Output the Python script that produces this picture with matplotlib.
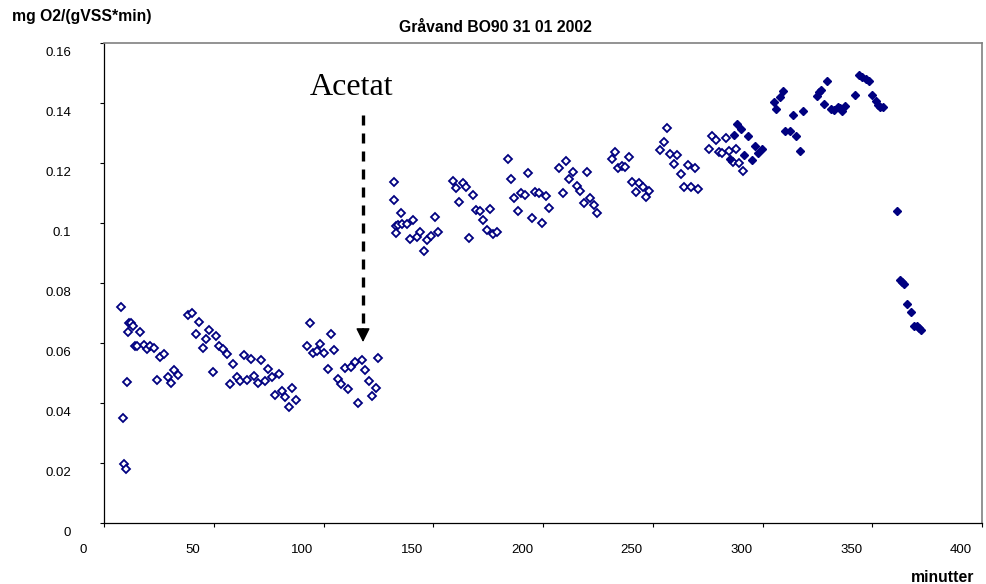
import numpy as np
import matplotlib
matplotlib.use("Agg")
import matplotlib.pyplot as plt
from matplotlib.transforms import ScaledTranslation

plt.rcParams['font.family'] = ['Liberation Sans', 'DejaVu Sans']

# open diamonds (before / around acetate dosing)
open_min = [7.9, 11.2, 12.3, 13.1, 10.8, 16.5, 14.1, 14.9, 18.1, 19.6, 21.0, 22.8, 25.5, 27.5,
            10.6, 8.5, 9.1, 10.0, 24.3, 29.0, 30.5, 32.0, 33.6, 38.4, 40.2, 43.4, 41.8, 48.0,
            46.3, 51.0, 45.0, 52.5, 54.4, 55.9, 49.5, 58.9, 57.4, 60.4, 62.1, 63.6, 66.8, 65.3,
            68.5, 70.0, 71.7, 73.2, 74.9, 76.4, 79.5, 77.9, 81.0, 82.5, 85.7, 84.1, 87.3, 93.8,
            103.4, 92.3, 98.5, 95.4, 96.9, 100.1, 104.9, 102.1, 109.7, 106.6, 108.1, 111.3, 112.7,
            114.3, 117.5, 119.0, 120.6, 123.8, 122.1, 115.9, 125.0, 132.3, 132.3, 135.1, 132.9,
            134.1, 135.9, 137.9, 140.9, 133.0, 139.4, 142.7, 144.1, 145.8, 147.3, 148.8, 150.6,
            152.0, 158.8, 160.4, 163.7, 165.0, 161.9, 168.3, 166.4, 169.7, 171.3, 176.0, 172.8,
            174.3, 177.3, 179.0, 184.1, 185.6, 186.9, 190.2, 191.8, 188.7, 193.3, 196.5, 198.0,
            201.2, 195.0, 199.5, 202.7, 207.4, 210.6, 213.8, 212.0, 209.0, 215.5, 217.0, 220.0,
            218.5, 221.5, 223.2, 224.7, 231.3, 232.8, 234.3, 236.1, 237.5, 239.0, 240.7, 242.2,
            243.9, 245.4, 246.9, 248.4, 256.5, 255.0, 253.3, 258.0, 261.2, 259.7, 262.7, 265.9,
            269.1, 264.3, 267.4, 270.6, 275.5, 277.0, 278.7, 283.2, 280.0, 281.7, 284.8, 287.9,
            286.4, 289.4, 290.9]
open_rate = [0.0719, 0.0668, 0.0666, 0.0657, 0.0636, 0.0637, 0.0591, 0.0591, 0.0593, 0.058, 0.0589,
             0.0584, 0.0552, 0.0562, 0.047, 0.035, 0.0198, 0.0181, 0.0478, 0.0486, 0.0466, 0.051,
             0.0493, 0.0692, 0.0699, 0.067, 0.063, 0.0644, 0.0613, 0.0623, 0.0582, 0.0589, 0.058,
             0.0563, 0.0502, 0.0529, 0.0462, 0.0488, 0.0474, 0.056, 0.0546, 0.0477, 0.049, 0.0466,
             0.0542, 0.0473, 0.0512, 0.0487, 0.0496, 0.0428, 0.0441, 0.0419, 0.045, 0.0386, 0.0409,
             0.0666, 0.0629, 0.059, 0.0597, 0.0566, 0.0573, 0.0568, 0.0578, 0.0514, 0.0516, 0.0481,
             0.0464, 0.0446, 0.0521, 0.0537, 0.0543, 0.0511, 0.0474, 0.0451, 0.0422, 0.0399, 0.0551,
             0.1138, 0.1076, 0.1033, 0.0989, 0.0993, 0.0996, 0.0997, 0.101, 0.0968, 0.0947, 0.0953,
             0.0971, 0.0907, 0.0943, 0.0957, 0.1021, 0.0971, 0.1141, 0.1116, 0.1134, 0.1119, 0.107,
             0.1094, 0.0951, 0.1044, 0.1041, 0.1047, 0.1009, 0.0977, 0.0963, 0.0971, 0.1214, 0.1147,
             0.1083, 0.1099, 0.1092, 0.1041, 0.1168, 0.1103, 0.1099, 0.109, 0.1017, 0.0999, 0.1049,
             0.1183, 0.1208, 0.1169, 0.1147, 0.1101, 0.1122, 0.1106, 0.1171, 0.1066, 0.1084, 0.106,
             0.1033, 0.1214, 0.1236, 0.1184, 0.1191, 0.1187, 0.1221, 0.1138, 0.1102, 0.1132, 0.1119,
             0.1086, 0.1108, 0.1318, 0.127, 0.1242, 0.123, 0.1228, 0.1197, 0.1162, 0.1194, 0.1183,
             0.1119, 0.112, 0.1114, 0.1248, 0.1291, 0.1277, 0.1284, 0.1236, 0.1234, 0.124, 0.1248,
             0.1202, 0.1199, 0.1173]

# filled diamonds (late part of the run)
filled_min = [285.2, 287.0, 288.4, 290.0, 291.7, 293.4, 295.0, 296.4, 298.1, 299.6, 305.4, 306.0,
              308.0, 309.2, 310.4, 312.5, 313.7, 315.4, 316.9, 318.6, 324.8, 325.7, 326.5, 328.0,
              329.6, 331.1, 332.6, 334.3, 335.4, 336.1, 337.6, 342.3, 343.9, 345.5, 347.0, 348.5,
              350.0, 351.7, 352.7, 353.6, 354.7, 361.1, 362.6, 363.7, 364.6, 366.0, 367.5, 369.0,
              370.5, 371.4, 372.3]
filled_rate = [0.1214, 0.1292, 0.1331, 0.1314, 0.1227, 0.129, 0.121, 0.1258, 0.1232, 0.1248, 0.1404,
               0.138, 0.1419, 0.144, 0.1308, 0.1308, 0.1361, 0.129, 0.1239, 0.1373, 0.1425, 0.1436,
               0.1442, 0.1395, 0.1473, 0.1379, 0.1377, 0.1388, 0.1382, 0.1374, 0.139, 0.1428, 0.1494,
               0.1486, 0.148, 0.1473, 0.1426, 0.1408, 0.1393, 0.1387, 0.1386, 0.1041, 0.0811, 0.0803,
               0.0797, 0.073, 0.0703, 0.0658, 0.0658, 0.065, 0.0642]

xticks = [0, 50, 100, 150, 200, 250, 300, 350, 400]
yticks = [0, 0.02, 0.04, 0.06, 0.08, 0.1, 0.12, 0.14, 0.16]
ytick_labels = ['0', '0.02', '0.04', '0.06', '0.08', '0.1', '0.12', '0.14', '0.16']

acetat_x = 118
acetat_top = 0.136
acetat_base = 0.0643
acetat_tip = 0.0603

navy = '#000080'
W, H = 987, 584

fig = plt.figure(figsize=(W / 100, H / 100), dpi=100)
ax = fig.add_axes([104 / W, 1 - 523 / H, (982 - 104) / W, (523 - 43) / H])

ax.plot(open_min, open_rate, linestyle='none', marker='D', markersize=3.8,
        markerfacecolor='white', markeredgecolor=navy, markeredgewidth=1.3)
ax.plot(filled_min, filled_rate, linestyle='none', marker='D', markersize=4.2,
        markerfacecolor=navy, markeredgecolor=navy, markeredgewidth=1.0)

ax.set_xlim(0, 400)
ax.set_ylim(0, 0.16)
ax.set_xticks(xticks)
ax.set_xticklabels([str(t) for t in xticks])
ax.set_yticks(yticks)
ax.set_yticklabels(ytick_labels)
ax.tick_params(direction='out', length=3, width=0.8, pad=5.5, labelsize=9.5, colors='black')

for side in ['left', 'bottom']:
    ax.spines[side].set_color('black')
    ax.spines[side].set_linewidth(0.9)
for side in ['top', 'right']:
    ax.spines[side].set_color('#808080')
    ax.spines[side].set_linewidth(1.2)

# tick text sits a little left of / below the ticks in the original
shift = ScaledTranslation(-21 / 100, -9 / 100, fig.dpi_scale_trans)
for lab in ax.get_xticklabels() + ax.get_yticklabels():
    lab.set_transform(lab.get_transform() + shift)

# acetate dosing arrow
ax.plot([acetat_x, acetat_x], [acetat_top, acetat_base], color='black', lw=2.4,
        linestyle=(0, (3, 2.4)), solid_capstyle='butt', dash_capstyle='butt')
ax.annotate('', xy=(acetat_x, acetat_tip), xytext=(acetat_x, acetat_base + 0.0005),
            arrowprops=dict(arrowstyle='-|>,head_length=0.42,head_width=0.21',
                            color='black', lw=1, shrinkA=0, shrinkB=0, mutation_scale=20))

fig.text(310 / W, 1 - 95 / H, 'Acetat', family=['Liberation Serif', 'DejaVu Serif'],
         fontsize=23, ha='left', va='baseline')
fig.text(495 / W, 1 - 27 / H, 'Gråvand BO90 31 01 2002', fontsize=11.3, fontweight='bold',
         ha='center', va='center')
fig.text(12 / W, 1 - 17 / H, 'mg O2/(gVSS*min)', fontsize=11.3, fontweight='bold',
         ha='left', va='center')
fig.text(974 / W, 1 - 578 / H, 'minutter', fontsize=11.3, fontweight='bold',
         ha='right', va='center')

fig.savefig('out.png', dpi=100)
